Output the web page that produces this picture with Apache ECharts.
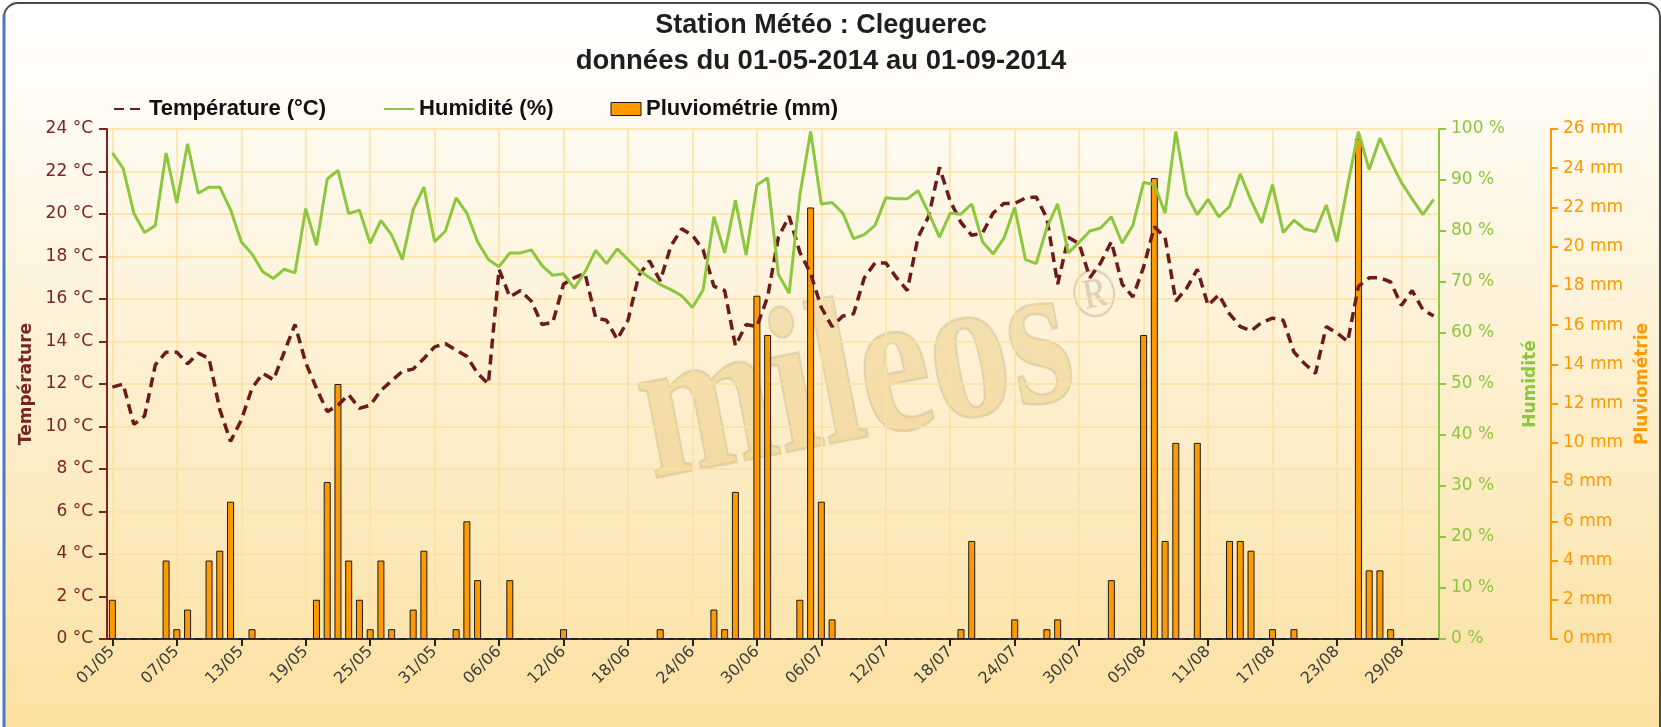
<!DOCTYPE html>
<html>
<head>
<meta charset="utf-8">
<script src="https://cdn.jsdelivr.net/npm/echarts@6.0.0/dist/echarts.min.js"></script>
<style>
html,body{margin:0;padding:0;background:#ffffff;}
#chart{width:1661px;height:727px;}
</style>
</head>
<body>
<div id="chart"></div>
<script>
// ---- data ----
const categories = [
  '01/05','02/05','03/05','04/05','05/05','06/05','07/05','08/05','09/05','10/05',
  '11/05','12/05','13/05','14/05','15/05','16/05','17/05','18/05','19/05','20/05',
  '21/05','22/05','23/05','24/05','25/05','26/05','27/05','28/05','29/05','30/05','31/05',
  '01/06','02/06','03/06','04/06','05/06','06/06','07/06','08/06','09/06','10/06',
  '11/06','12/06','13/06','14/06','15/06','16/06','17/06','18/06','19/06','20/06',
  '21/06','22/06','23/06','24/06','25/06','26/06','27/06','28/06','29/06','30/06',
  '01/07','02/07','03/07','04/07','05/07','06/07','07/07','08/07','09/07','10/07',
  '11/07','12/07','13/07','14/07','15/07','16/07','17/07','18/07','19/07','20/07',
  '21/07','22/07','23/07','24/07','25/07','26/07','27/07','28/07','29/07','30/07','31/07',
  '01/08','02/08','03/08','04/08','05/08','06/08','07/08','08/08','09/08','10/08',
  '11/08','12/08','13/08','14/08','15/08','16/08','17/08','18/08','19/08','20/08',
  '21/08','22/08','23/08','24/08','25/08','26/08','27/08','28/08','29/08','30/08','31/08',
  '01/09'
];

const temperature = [
  11.85, 12.0, 10.1, 10.5, 12.9, 13.5, 13.5, 12.95, 13.45, 13.2,
  10.8, 9.3, 10.3, 11.8, 12.5, 12.2, 13.5, 14.8, 13.0, 11.8,
  10.7, 11.0, 11.5, 10.85, 11.0, 11.7, 12.15, 12.6, 12.7, 13.2,
  13.75, 13.9, 13.6, 13.3, 12.5, 12.0, 17.4, 16.1, 16.4, 15.9,
  14.8, 14.9, 16.7, 17.0, 17.2, 15.1, 15.0, 14.1, 15.0, 17.1,
  17.8, 16.85, 18.5, 19.3, 19.0, 18.3, 16.6, 16.4, 13.8, 14.8,
  14.7, 16.1, 18.9, 19.9, 18.2, 17.2, 15.6, 14.7, 15.2, 15.3,
  17.0, 17.7, 17.7, 17.0, 16.4, 18.9, 19.9, 22.2, 20.6, 19.6,
  19.0, 19.1, 20.05, 20.5, 20.5, 20.75, 20.8, 19.8, 16.7, 18.9,
  18.6, 17.0, 17.7, 18.7, 16.7, 16.1, 17.5, 19.4, 18.9, 15.9,
  16.5, 17.4, 15.7, 16.2, 15.3, 14.7, 14.5, 14.9, 15.1, 15.0,
  13.5, 12.95, 12.5, 14.7, 14.4, 14.0, 16.6, 17.0, 17.0, 16.8,
  15.7, 16.4, 15.5, 15.2
];

const humidity = [
  95.3, 92.3, 83.5, 79.7, 81.1, 95.3, 85.5, 97.1, 87.4, 88.6,
  88.6, 84.2, 77.9, 75.5, 72.0, 70.7, 72.5, 71.8, 84.4, 77.2,
  90.2, 91.9, 83.4, 84.1, 77.6, 82.1, 79.2, 74.4, 84.2, 88.6,
  77.9, 80.0, 86.5, 83.5, 77.9, 74.4, 73.0, 75.7, 75.7, 76.3,
  73.2, 71.3, 71.6, 68.8, 72.0, 76.2, 73.6, 76.5, 74.4, 72.3,
  70.9, 69.5, 68.5, 67.3, 65.0, 68.5, 82.8, 75.7, 86.0, 75.3,
  89.0, 90.4, 71.5, 67.8, 87.0, 99.5, 85.3, 85.6, 83.5, 78.5,
  79.3, 81.1, 86.5, 86.3, 86.3, 87.9, 83.5, 78.8, 83.5, 83.3,
  85.3, 77.9, 75.5, 78.6, 84.6, 74.4, 73.6, 80.7, 85.3, 75.7,
  77.8, 80.0, 80.6, 82.8, 77.6, 81.1, 89.5, 89.1, 83.5, 99.5,
  87.2, 83.2, 86.2, 82.8, 84.8, 91.2, 86.0, 81.6, 89.1, 79.7,
  82.1, 80.4, 79.9, 85.1, 77.9, 89.0, 99.5, 92.0, 98.2, 93.7,
  89.5, 86.3, 83.2, 86.2
];

const rainfall = [
  2, 0, 0, 0, 0, 4, 0.5, 1.5, 0, 4,
  4.5, 7, 0, 0.5, 0, 0, 0, 0, 0, 2,
  8, 13, 4, 2, 0.5, 4, 0.5, 0, 1.5, 4.5,
  0, 0, 0.5, 6, 3, 0, 0, 3, 0, 0,
  0, 0, 0.5, 0, 0, 0, 0, 0, 0, 0,
  0, 0.5, 0, 0, 0, 0, 1.5, 0.5, 7.5, 0,
  17.5, 15.5, 0, 0, 2, 22, 7, 1, 0, 0,
  0, 0, 0, 0, 0, 0, 0, 0, 0, 0.5,
  5, 0, 0, 0, 1, 0, 0, 0.5, 1, 0,
  0, 0, 0, 3, 0, 0, 15.5, 23.5, 5, 10,
  0, 10, 0, 0, 5, 5, 4.5, 0, 0.5, 0,
  0.5, 0, 0, 0, 0, 0, 25.5, 3.5, 3.5, 0.5,
  0, 0, 0, 0
];

const titleLines = ['Station Météo : Cleguerec', 'données du 01-05-2014 au 01-09-2014'];
const seriesNames = ['Température (°C)', 'Humidité (%)', 'Pluviométrie (mm)'];
const axisNames = ['Température', 'Humidité', 'Pluviométrie'];
const axisUnits = ['°C', '%', 'mm'];

// ---- style ----
const C_TEMP = '#7a2424';
const C_TEMP_LINE = '#6b1b1b';
const C_HUM = '#8dc63f';
const C_RAIN = '#ff9900';
const C_GRID = '#fde0a0';
const AXIS_FONT = 'DejaVu Sans';

const chart = echarts.init(document.getElementById('chart'), null, {renderer: 'canvas'});

const option = {
  animation: false,
  backgroundColor: '#ffffff',
  textStyle: {fontFamily: AXIS_FONT},
  graphic: [
    {
      type: 'rect', z: -100, silent: true,
      shape: {x: 4, y: 3, width: 1656, height: 820, r: 14},
      style: {
        fill: {type: 'linear', x: 0, y: 0, x2: 0, y2: 727, global: true,
          colorStops: [
            {offset: 0, color: '#ffffff'},
            {offset: 0.12, color: '#fffcf6'},
            {offset: 0.55, color: '#fdefcd'},
            {offset: 1, color: '#fbe1a1'}
          ]},
        stroke: '#4a4a4a', lineWidth: 2
      }
    },
    {
      type: 'line', z: -90, silent: true,
      shape: {x1: 4, y1: 14, x2: 4, y2: 727},
      style: {stroke: '#4a7bbf', lineWidth: 3}
    },
    {
      type: 'text', z: -80, silent: true,
      x: 856, y: 384, rotation: 11 * Math.PI / 180, scaleY: 1.3,
      style: {
        text: 'mileos', font: 'bold 160px "Liberation Serif"',
        fill: 'rgba(228,196,118,0.42)', stroke: 'rgba(160,150,120,0.28)', lineWidth: 2,
        textAlign: 'center', textVerticalAlign: 'middle', align: 'center', verticalAlign: 'middle'
      }
    },
    {
      type: 'text', z: -80, silent: true,
      x: 1095, y: 298, rotation: 11 * Math.PI / 180, scaleY: 1.15,
      style: {
        text: '®', font: 'normal 62px "Liberation Serif"',
        fill: 'rgba(170,160,130,0.4)',
        textAlign: 'center', textVerticalAlign: 'middle', align: 'center', verticalAlign: 'middle'
      }
    },
    {
      type: 'text', z: 10, silent: true, x: 821, y: 26,
      style: {
        text: titleLines[0], font: 'bold 27px "Liberation Sans"', fill: '#1e1e1e',
        textAlign: 'center', textVerticalAlign: 'middle', align: 'center', verticalAlign: 'middle'
      }
    },
    {
      type: 'text', z: 10, silent: true, x: 821, y: 61,
      style: {
        text: titleLines[1], font: 'bold 27.5px "Liberation Sans"', fill: '#1e1e1e',
        textAlign: 'center', textVerticalAlign: 'middle', align: 'center', verticalAlign: 'middle'
      }
    }
  ],
  legend: {
    data: [
      {name: seriesNames[0], itemStyle: {opacity: 0, color: 'rgba(0,0,0,0)', borderWidth: 0}},
      {name: seriesNames[1], itemStyle: {opacity: 0, color: 'rgba(0,0,0,0)', borderWidth: 0}},
      {name: seriesNames[2], icon: 'rect', itemStyle: {color: C_RAIN, borderColor: '#1a1a1a', borderWidth: 1}}
    ],
    left: 113, top: 98, padding: 0,
    itemWidth: 30, itemHeight: 13, itemGap: 57,
    textStyle: {fontFamily: '"Liberation Sans", Arial', fontWeight: 'bold', fontSize: 22, color: '#111111'}
  },
  grid: {left: 107, right: 222, top: 129, bottom: 88, containLabel: false},
  xAxis: {
    type: 'category',
    data: categories,
    boundaryGap: true,
    axisLine: {show: true, lineStyle: {color: '#333333', width: 2}},
    axisTick: {show: true, alignWithLabel: true, interval: 5, length: 7, lineStyle: {color: '#222222', width: 2}},
    axisLabel: {interval: 5, rotate: 45, margin: 10, fontSize: 16, color: '#3c3c3c', fontFamily: AXIS_FONT},
    splitLine: {show: true, interval: 5, alignWithLabel: true, lineStyle: {color: C_GRID, width: 1.5}}
  },
  yAxis: [
    {
      type: 'value', min: 0, max: 24, interval: 2, position: 'left',
      name: axisNames[0], nameLocation: 'middle', nameRotate: 90, nameGap: 70,
      nameTextStyle: {color: C_TEMP, fontWeight: 'bold', fontSize: 17, fontFamily: AXIS_FONT},
      axisLine: {show: true, lineStyle: {color: C_TEMP, width: 2}},
      axisTick: {show: true, length: 8, lineStyle: {color: C_TEMP, width: 2}},
      axisLabel: {formatter: '{value} ' + axisUnits[0], margin: 14, fontSize: 17, color: C_TEMP, fontFamily: AXIS_FONT},
      splitLine: {show: true, lineStyle: {color: C_GRID, width: 1.5}}
    },
    {
      type: 'value', min: 0, max: 100, interval: 10, position: 'right',
      name: axisNames[1], nameLocation: 'middle', nameRotate: 90, nameGap: 83,
      nameTextStyle: {color: C_HUM, fontWeight: 'bold', fontSize: 17, fontFamily: AXIS_FONT},
      axisLine: {show: true, lineStyle: {color: C_HUM, width: 2}},
      axisTick: {show: true, length: 7, lineStyle: {color: C_HUM, width: 2}},
      axisLabel: {formatter: '{value} ' + axisUnits[1], margin: 12, fontSize: 17, color: C_HUM, fontFamily: AXIS_FONT},
      splitLine: {show: false}
    },
    {
      type: 'value', min: 0, max: 26, interval: 2, position: 'right', offset: 112,
      name: axisNames[2], nameLocation: 'middle', nameRotate: 90, nameGap: 82,
      nameTextStyle: {color: C_RAIN, fontWeight: 'bold', fontSize: 17, fontFamily: AXIS_FONT},
      axisLine: {show: true, lineStyle: {color: C_RAIN, width: 2}},
      axisTick: {show: true, length: 7, lineStyle: {color: C_RAIN, width: 2}},
      axisLabel: {formatter: '{value} ' + axisUnits[2], margin: 12, fontSize: 17, color: C_RAIN, fontFamily: AXIS_FONT},
      splitLine: {show: false}
    }
  ],
  series: [
    {
      name: seriesNames[2], type: 'bar', yAxisIndex: 2, data: rainfall,
      barWidth: 7,
      itemStyle: {color: C_RAIN, borderColor: '#1a1a1a', borderWidth: 1}
    },
    {
      name: seriesNames[0], type: 'line', yAxisIndex: 0, data: temperature,
      symbol: 'none', showSymbol: false,
      lineStyle: {color: C_TEMP_LINE, width: 3.5, type: [10, 6]},
      itemStyle: {color: C_TEMP_LINE}
    },
    {
      name: seriesNames[1], type: 'line', yAxisIndex: 1, data: humidity,
      symbol: 'none', showSymbol: false,
      lineStyle: {color: C_HUM, width: 3},
      itemStyle: {color: C_HUM}
    }
  ]
};

chart.setOption(option);
</script>
</body>
</html>
